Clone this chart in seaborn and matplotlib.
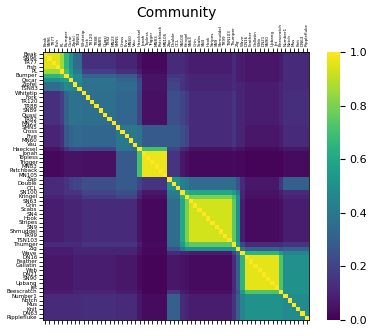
import numpy as np
import pandas as pd
import matplotlib
matplotlib.use("Agg")
import matplotlib.pyplot as plt
import seaborn as sns

# dolphins, in the order they appear on the axes
names = ["Beak", "SN96", "TR77", "Fish", "PL", "Bumper", "Oscar", "Zipfel",
         "TSN83", "Whitetip", "Fork", "TR120", "TR88", "SN89", "Quasi", "TR82",
         "MN23", "SMN5", "Cross", "Five", "MN60", "Vau", "Haecksel", "Jonah",
         "Topless", "Trigger", "MN83", "Patchback", "MN105", "Zap", "Double",
         "CCL", "SN100", "Kringel", "SN63", "Grin", "Scabs", "SN4", "Hook",
         "Stripes", "SN9", "Shmuddel", "TR99", "TSN103", "Thumper", "Zig",
         "Wave", "DN16", "Feather", "Gallatin", "Web", "DN21", "SN90", "Upbang",
         "Jet", "Beescratch", "Number1", "Notch", "Mus", "Knit", "DN63",
         "Ripplefluke"]

# how many consecutive dolphins share the same row pattern
group_sizes = [4, 1, 1, 1, 2, 8, 5, 1, 6, 3, 1, 1, 10, 1, 1, 1, 8, 1, 6]

# co-assignment between groups (upper triangle, read row by row)
g00 = [0.95, 0.85, 0.65, 0.50, 0.35, 0.14, 0.10, 0.05, 0.02, 0.12, 0.12, 0.10, 0.08, 0.12, 0.08, 0.08, 0.06, 0.08, 0.12]
g01 = [1.00, 0.70, 0.55, 0.40, 0.18, 0.14, 0.08, 0.03, 0.12, 0.12, 0.10, 0.08, 0.12, 0.08, 0.08, 0.06, 0.08, 0.12]
g02 = [1.00, 0.58, 0.48, 0.32, 0.28, 0.15, 0.05, 0.15, 0.15, 0.12, 0.10, 0.12, 0.08, 0.08, 0.06, 0.08, 0.12]
g03 = [1.00, 0.46, 0.38, 0.32, 0.20, 0.05, 0.18, 0.15, 0.12, 0.10, 0.12, 0.08, 0.08, 0.06, 0.08, 0.12]
g04 = [0.45, 0.37, 0.34, 0.22, 0.05, 0.20, 0.15, 0.12, 0.10, 0.12, 0.10, 0.10, 0.08, 0.10, 0.12]
g05 = [0.36, 0.33, 0.20, 0.04, 0.24, 0.20, 0.17, 0.12, 0.15, 0.10, 0.10, 0.08, 0.10, 0.13]
g06 = [0.40, 0.38, 0.28, 0.28, 0.24, 0.20, 0.12, 0.15, 0.10, 0.10, 0.06, 0.08, 0.12]
g07 = [1.00, 0.70, 0.20, 0.12, 0.10, 0.05, 0.08, 0.05, 0.05, 0.03, 0.04, 0.06]
g08 = [0.97, 0.15, 0.06, 0.04, 0.02, 0.03, 0.02, 0.02, 0.01, 0.01, 0.03]
g09 = [0.50, 0.42, 0.40, 0.35, 0.35, 0.25, 0.12, 0.06, 0.15, 0.30]
g10 = [1.00, 0.65, 0.60, 0.55, 0.40, 0.10, 0.05, 0.08, 0.12]
g11 = [1.00, 0.80, 0.70, 0.50, 0.10, 0.04, 0.06, 0.10]
g12 = [0.93, 0.75, 0.50, 0.08, 0.03, 0.04, 0.08]
g13 = [1.00, 0.55, 0.20, 0.12, 0.12, 0.15]
g14 = [1.00, 0.40, 0.30, 0.25, 0.30]
g15 = [1.00, 0.65, 0.55, 0.45]
g16 = [0.96, 0.72, 0.50]
g17 = [1.00, 0.50]
g18 = [0.48]

rows = [g00, g01, g02, g03, g04, g05, g06, g07, g08, g09,
        g10, g11, g12, g13, g14, g15, g16, g17, g18]
n_groups = len(rows)
table = np.zeros((n_groups, n_groups))
for k, r in enumerate(rows):
    table[k, k:] = r
    table[k:, k] = r

gi = np.repeat(np.arange(n_groups), group_sizes)
mat = table[np.ix_(gi, gi)]
np.fill_diagonal(mat, 1.0)
df = pd.DataFrame(mat, index=names, columns=names)

fig = plt.figure(figsize=(3.73, 3.36), dpi=100)
ax = fig.add_axes([0.1153, 0.0476, 0.7131, 0.7976])
cax = fig.add_axes([0.8767, 0.0476, 0.0349, 0.7976])

sns.heatmap(df, ax=ax, cbar_ax=cax, cmap="viridis", vmin=0, vmax=1,
            xticklabels=names, yticklabels=names)

ax.set_title("Community", fontsize=10, y=1.13, pad=0)
ax.tick_params(axis="x", top=True, labeltop=True, bottom=True, labelbottom=False,
               labelrotation=90, labelsize=3, length=3, width=0.6, pad=1)
ax.tick_params(axis="y", labelsize=4, length=3, width=0.6, pad=1, labelrotation=0)
for s in ax.spines.values():
    s.set_visible(True)
    s.set_linewidth(0.6)

cax.tick_params(labelsize=8)
cax.set_yticks([0.0, 0.2, 0.4, 0.6, 0.8, 1.0])

fig.savefig("out.png", dpi=100)
